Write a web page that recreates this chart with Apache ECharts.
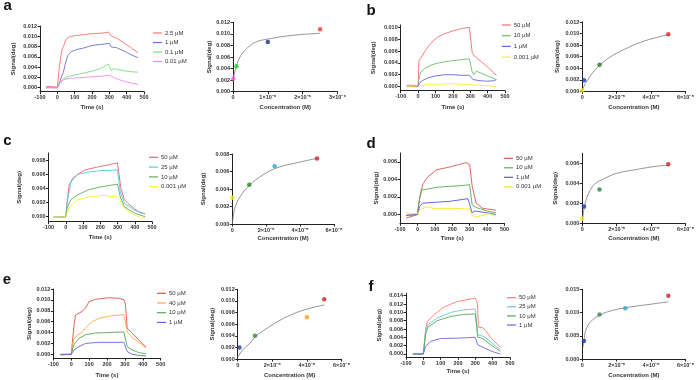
<!DOCTYPE html>
<html>
<head>
<meta charset="utf-8">
<script src="https://cdn.jsdelivr.net/npm/echarts@6/dist/echarts.min.js"></script>
<style>
  html, body { margin: 0; padding: 0; background: #fff; }
  #chart { width: 697px; height: 380px; }
</style>
</head>
<body>
<div id="chart"></div>
<script>
// ---- data: sensorgrams [time (s), signal (deg)] ----
const a_2_5uM = [[-65,0.0002],[-30,0.0002],[0,0.0001],[10,0.0035],[25,0.0072],[35,0.0080],[50,0.0094],[70,0.0099],[100,0.0101],[150,0.0103],[200,0.0105],[250,0.0106],[295,0.0108],[305,0.0106],[312,0.0100],[320,0.0102],[340,0.0097],[380,0.0088],[420,0.0079],[465,0.0068]];
const a_1uM = [[-65,0.0000],[0,0.0000],[15,0.0012],[25,0.0022],[35,0.0030],[45,0.0045],[60,0.0062],[80,0.0070],[110,0.0074],[150,0.0077],[200,0.0082],[250,0.0084],[300,0.0086],[305,0.0086],[312,0.0079],[320,0.0081],[340,0.0078],[380,0.0072],[420,0.0065],[465,0.0058]];
const a_0_1uM = [[-65,0.0000],[0,0.0000],[15,0.0010],[30,0.0016],[50,0.0020],[80,0.0023],[120,0.0026],[160,0.0029],[200,0.0032],[250,0.0037],[295,0.0046],[305,0.0046],[312,0.0033],[325,0.0037],[340,0.0036],[380,0.0033],[420,0.0031],[465,0.0030]];
const a_0_01uM = [[-65,0.0000],[0,-0.0001],[15,0.0008],[30,0.0014],[50,0.0017],[80,0.0018],[120,0.0019],[160,0.0020],[200,0.0021],[250,0.0022],[300,0.0024],[310,0.0023],[330,0.0019],[360,0.0015],[400,0.0011],[440,0.0008],[465,0.0006]];

const b_50uM = [[-65,0.0002],[-30,0.0002],[0,0.0002],[5,0.0044],[12,0.0047],[20,0.0050],[40,0.0060],[60,0.0068],[80,0.0075],[110,0.0083],[150,0.0089],[200,0.0094],[250,0.0098],[295,0.0100],[300,0.0099],[312,0.0056],[330,0.0050],[360,0.0043],[400,0.0033],[450,0.0019]];
const b_10uM = [[-65,0.0000],[0,0.0000],[5,0.0012],[15,0.0024],[40,0.0031],[80,0.0037],[120,0.0040],[180,0.0043],[240,0.0045],[295,0.0047],[300,0.0046],[310,0.0026],[320,0.0020],[335,0.0026],[360,0.0023],[400,0.0018],[450,0.0012]];
const b_1uM = [[-65,0.0000],[0,0.0000],[8,0.0006],[30,0.0011],[60,0.0015],[100,0.0018],[150,0.0020],[200,0.0020],[250,0.0019],[295,0.0019],[305,0.0016],[315,0.0012],[350,0.0010],[400,0.0009],[440,0.0010],[450,0.0012]];
const b_0_001uM = [[-65,0.0000],[0,0.0001],[10,0.0003],[60,0.0004],[120,0.0004],[180,0.0005],[240,0.0004],[295,0.0003],[320,0.0003],[380,0.0002],[450,0.0000]];

const c_50uM = [[-70,0.0000],[-30,-0.0001],[0,0.0000],[10,0.0026],[20,0.0045],[40,0.0054],[70,0.0060],[110,0.0066],[180,0.0070],[260,0.0074],[300,0.0076],[305,0.0076],[320,0.0040],[340,0.0024],[360,0.0019],[400,0.0011],[430,0.0006],[460,0.0004]];
const c_25uM = [[-70,-0.0001],[0,0.0000],[10,0.0023],[30,0.0049],[70,0.0060],[130,0.0063],[200,0.0065],[300,0.0066],[305,0.0066],[316,0.0035],[340,0.0019],[400,0.0009],[460,0.0004]];
const c_10uM = [[-70,-0.0001],[0,0.0000],[10,0.0014],[30,0.0024],[70,0.0031],[130,0.0038],[200,0.0042],[300,0.0046],[305,0.0045],[316,0.0028],[340,0.0014],[400,0.0005],[460,0.0000]];
const c_0_001uM = [[-70,-0.0001],[0,0.0000],[10,0.0008],[30,0.0016],[70,0.0024],[130,0.0028],[220,0.0030],[300,0.0028],[316,0.0022],[340,0.0012],[400,0.0002],[460,-0.0003]];

const d_50uM = [[-65,-0.0004],[-30,-0.0002],[0,0.0000],[13,0.0020],[32,0.0035],[60,0.0043],[110,0.0051],[185,0.0054],[260,0.0058],[280,0.0059],[300,0.0057],[314,0.0033],[337,0.0013],[375,0.0007],[450,0.0005]];
const d_10uM = [[-65,-0.0001],[0,0.0000],[13,0.0018],[25,0.0028],[60,0.0029],[110,0.0031],[185,0.0032],[260,0.0033],[300,0.0034],[314,0.0011],[337,0.0008],[400,0.0004],[450,0.0002]];
const d_1uM = [[-65,-0.0001],[0,0.0000],[13,0.0009],[32,0.0013],[110,0.0014],[185,0.0015],[290,0.0018],[300,0.0017],[314,0.0002],[330,0.0004],[400,0.0002],[450,0.0000]];
const d_0_001uM = [[-65,0.0002],[-30,0.0001],[0,0.0001],[13,0.0005],[50,0.0009],[90,0.0007],[150,0.0007],[220,0.0007],[300,0.0006],[314,-0.0001],[337,-0.0003],[413,0.0001],[450,-0.0002]];

const e_50uM = [[-60,0.0000],[0,0.0000],[15,0.0051],[24,0.0072],[45,0.0076],[62,0.0079],[80,0.0085],[100,0.0097],[136,0.0101],[210,0.0104],[266,0.0103],[295,0.0100],[303,0.0092],[313,0.0048],[341,0.0039],[378,0.0026],[418,0.0013]];
const e_40uM = [[-60,0.0000],[0,0.0000],[15,0.0029],[35,0.0035],[62,0.0041],[90,0.0052],[118,0.0060],[155,0.0066],[210,0.0070],[294,0.0073],[300,0.0072],[313,0.0041],[341,0.0031],[378,0.0022],[418,0.0012]];
const e_10uM = [[-60,-0.0001],[0,0.0000],[15,0.0018],[43,0.0029],[80,0.0036],[136,0.0039],[210,0.0040],[294,0.0041],[300,0.0040],[313,0.0014],[341,0.0008],[378,0.0003],[418,0.0001]];
const e_1uM = [[-60,-0.0001],[0,0.0000],[15,0.0008],[43,0.0014],[80,0.0020],[155,0.0022],[294,0.0022],[300,0.0021],[313,0.0005],[341,0.0000],[378,-0.0002],[418,-0.0003]];

const f_50uM = [[-60,0.0000],[0,0.0000],[13,0.0058],[23,0.0078],[60,0.0094],[120,0.0113],[195,0.0126],[270,0.0132],[300,0.0134],[312,0.0122],[318,0.0064],[340,0.0064],[360,0.0056],[400,0.0034],[445,0.0016]];
const f_25uM = [[-60,0.0000],[0,0.0000],[13,0.0054],[26,0.0070],[80,0.0086],[157,0.0100],[233,0.0106],[300,0.0108],[305,0.0107],[314,0.0046],[350,0.0042],[396,0.0026],[445,0.0010]];
const f_10uM = [[-60,0.0000],[0,0.0000],[13,0.0046],[26,0.0064],[80,0.0080],[157,0.0090],[233,0.0095],[300,0.0096],[305,0.0095],[314,0.0040],[330,0.0039],[349,0.0035],[396,0.0020],[445,0.0006]];
const f_1uM = [[-60,0.0000],[0,0.0000],[13,0.0018],[40,0.0030],[98,0.0037],[200,0.0038],[300,0.0040],[305,0.0039],[314,0.0022],[349,0.0015],[396,0.0006],[445,0.0000]];

// ---- binding plots: concentration (M) vs steady signal, plus fitted curve ----
const a_conc = [1e-8, 1e-7, 1e-6, 2.5e-6];
const a_resp = [0.0023, 0.0044, 0.0086, 0.0108];
const a_fit = [[0,0.0022],[5e-8,0.0034],[1e-7,0.0045],[2e-7,0.0060],[3.5e-7,0.0072],[5e-7,0.0080],[7e-7,0.0087],[1e-6,0.0091],[1.5e-6,0.0096],[2e-6,0.0099],[2.5e-6,0.0101]];

const b_conc = [1e-9, 1e-6, 1e-5, 5e-5];
const b_resp = [0.0002, 0.0019, 0.0046, 0.0099];
const b_fit = [[0,0.0000],[1e-6,0.0009],[3e-6,0.0019],[6e-6,0.0032],[1e-5,0.0045],[1.6e-5,0.0059],[2.4e-5,0.0072],[3.4e-5,0.0085],[4.3e-5,0.0093],[5e-5,0.0098]];

const c_conc = [1e-9, 1e-5, 2.5e-5, 5e-5];
const c_resp = [0.0030, 0.0045, 0.0066, 0.0075];
const c_fit = [[0,0.0000],[1.5e-6,0.0018],[4.5e-6,0.0031],[1e-5,0.0044],[1.8e-5,0.0056],[2.6e-5,0.0064],[3.8e-5,0.0070],[5e-5,0.0075]];

const d_conc = [1e-9, 1e-6, 1e-5, 5e-5];
const d_resp = [0.0005, 0.0017, 0.0034, 0.0059];
const d_fit = [[0,0.0003],[1.5e-6,0.0019],[3.4e-6,0.0029],[7e-6,0.0039],[1.3e-5,0.0045],[2e-5,0.0050],[3.2e-5,0.0054],[4.3e-5,0.0057],[5e-5,0.0058]];

const e_conc = [1e-6, 1e-5, 4e-5, 5e-5];
const e_resp = [0.0020, 0.0040, 0.0072, 0.0103];
const e_fit = [[3e-7,0.0004],[3e-6,0.0016],[7e-6,0.0027],[1e-5,0.0038],[1.7e-5,0.0053],[2.4e-5,0.0066],[3.4e-5,0.0080],[4.4e-5,0.0089],[5e-5,0.0093]];

const f_conc = [1e-6, 1e-5, 2.5e-5, 5e-5];
const f_resp = [0.0039, 0.0096, 0.0109, 0.0136];
const f_fit = [[5e-7,0.0026],[1e-6,0.0040],[2e-6,0.0062],[4.8e-6,0.0080],[1e-5,0.0094],[1.7e-5,0.0104],[2.8e-5,0.0112],[4e-5,0.0118],[5e-5,0.0123]];

// ---- tick labels ----
const timeTicks = [-100, 0, 100, 200, 300, 400, 500];
const sig12 = [0, 0.002, 0.004, 0.006, 0.008, 0.010, 0.012];
const sig10 = [0, 0.002, 0.004, 0.006, 0.008, 0.010];
const sig8 = [0, 0.002, 0.004, 0.006, 0.008];
const sig6 = [0, 0.002, 0.004, 0.006];
const sig14 = [0, 0.002, 0.004, 0.006, 0.008, 0.010, 0.012, 0.014];
const sig15 = [0, 0.005, 0.010, 0.015];
const concTicksA = [0, 1e-6, 2e-6, 3e-6];
const concTicks = [0, 2e-5, 4e-5, 6e-5];

const FONT = '"Liberation Sans", Arial, sans-serif';

// panel layout (pixels)
const panels = [
  { id: 'a', letter: [3.5, 10],
    lines: [['2.5 µM', a_2_5uM, '#ff7373'], ['1 µM', a_1uM, '#6f6fd2'], ['0.1 µM', a_0_1uM, '#7fdc7f'], ['0.01 µM', a_0_01uM, '#f08af0']],
    sensor: { left: 40, top: 26, width: 104, height: 65.7, min: -0.0008, max: 0.012, ticks: sig12, yGap: 24, xGap: 12.5 },
    bind: { left: 233, top: 22.3, width: 104.5, height: 69.4, max: 0.012, ticks: sig12, xmax: 3e-6, xticks: concTicksA, yGap: 17.5, xGap: 12.8,
            conc: a_conc, resp: a_resp, fit: a_fit, colors: ['#ff55dd', '#22cc22', '#1f2a8a', '#ee3333'] },
    legend: { left: 153, top: 29.5, gap: 2.5 } },
  { id: 'b', letter: [366.5, 15],
    lines: [['50 µM', b_50uM, '#ee7070'], ['10 µM', b_10uM, '#6cbf6c'], ['1 µM', b_1uM, '#6464dc'], ['0.001 µM', b_0_001uM, '#f5f033']],
    sensor: { left: 400.7, top: 25, width: 104.3, height: 65.7, min: -0.0007, max: 0.0104, ticks: sig10, yGap: 24, xGap: 14 },
    bind: { left: 582.3, top: 22, width: 105, height: 69.3, max: 0.012, ticks: sig12, xmax: 6e-5, xticks: concTicks, yGap: 22, xGap: 13.5,
            conc: b_conc, resp: b_resp, fit: b_fit, colors: ['#f5e800', '#2233aa', '#227722', '#dd2222'] },
    legend: { left: 501.7, top: 21.5, gap: 3.7 } },
  { id: 'c', letter: [3.3, 145.7],
    lines: [['50 µM', c_50uM, '#dd6677'], ['25 µM', c_25uM, '#55c8dc'], ['10 µM', c_10uM, '#66aa66'], ['0.001 µM', c_0_001uM, '#f5f033']],
    sensor: { left: 48.5, top: 153, width: 103.5, height: 68.7, min: -0.0007, max: 0.009, ticks: sig8, yGap: 26, xGap: 13 },
    bind: { left: 232.3, top: 154, width: 101.7, height: 70, max: 0.008, ticks: sig8, xmax: 6e-5, xticks: concTicks, yGap: 25.5, xGap: 11.8,
            conc: c_conc, resp: c_resp, fit: c_fit, colors: ['#f5e800', '#228822', '#22aacc', '#cc2222'] },
    legend: { left: 149, top: 153.8, gap: 2.8 } },
  { id: 'd', letter: [366.5, 148.3],
    lines: [['50 µM', d_50uM, '#dd5555'], ['10 µM', d_10uM, '#55aa55'], ['1 µM', d_1uM, '#5555dd'], ['0.001 µM', d_0_001uM, '#f5e522']],
    sensor: { left: 400, top: 153, width: 104.5, height: 70.3, min: -0.001, max: 0.007, ticks: sig6, yGap: 18, xGap: 12.5 },
    bind: { left: 582.3, top: 153.2, width: 105, height: 70.5, max: 0.007, ticks: sig6, xmax: 6e-5, xticks: concTicks, yGap: 23.5, xGap: 12,
            conc: d_conc, resp: d_resp, fit: d_fit, colors: ['#f5e800', '#2233bb', '#228833', '#cc2222'] },
    legend: { left: 504, top: 154.8, gap: 2.5 } },
  { id: 'e', letter: [2.7, 284],
    lines: [['50 µM', e_50uM, '#e05050'], ['40 µM', e_40uM, '#ffaa44'], ['10 µM', e_10uM, '#55aa55'], ['1 µM', e_1uM, '#6666dd']],
    sensor: { left: 53.3, top: 289, width: 107.4, height: 69.1, min: -0.0007, max: 0.012, ticks: sig12, yGap: 18, xGap: 14 },
    bind: { left: 237.7, top: 289.3, width: 103.8, height: 69.7, max: 0.012, ticks: sig12, xmax: 6e-5, xticks: concTicks, yGap: 22, xGap: 13.2,
            conc: e_conc, resp: e_resp, fit: e_fit, colors: ['#2233aa', '#338833', '#ff9922', '#cc2222'] },
    legend: { left: 157, top: 289.8, gap: 2.7 } },
  { id: 'f', letter: [368.5, 291.7],
    lines: [['50 µM', f_50uM, '#ff7777'], ['25 µM', f_25uM, '#66cccc'], ['10 µM', f_10uM, '#55aa55'], ['1 µM', f_1uM, '#7766dd']],
    sensor: { left: 406, top: 293.2, width: 104, height: 64.1, min: -0.0008, max: 0.0146, ticks: sig14, yGap: 24, xGap: 11.5 },
    bind: { left: 582.3, top: 289.3, width: 105, height: 69.7, max: 0.015, ticks: sig15, xmax: 6e-5, xticks: concTicks, yGap: 23, xGap: 13.5,
            conc: f_conc, resp: f_resp, fit: f_fit, colors: ['#2233aa', '#338855', '#22aacc', '#cc2222'] },
    legend: { left: 507, top: 294.2, gap: 2.1 } }
];

const SUP = { '-': '⁻', '0': '⁰', '1': '¹', '2': '²', '3': '³', '4': '⁴', '5': '⁵', '6': '⁶', '7': '⁷', '8': '⁸', '9': '⁹' };
function sci(v) {
  if (v === 0) return '0';
  const e = Math.floor(Math.log10(v) + 1e-9);
  const m = Math.round(v / Math.pow(10, e));
  return m + '×10' + String(e).split('').map(c => SUP[c]).join('');
}

function axis(extra) {
  return Object.assign({
    type: 'value',
    nameLocation: 'middle',
    axisLine: { show: true, onZero: false, lineStyle: { color: '#222', width: 1 } },
    axisTick: { show: true, length: 2.5, lineStyle: { color: '#222', width: 1 } },
    splitLine: { show: false },
    nameTextStyle: { fontSize: 6, fontWeight: 'bold', color: '#333', fontFamily: FONT }
  }, extra);
}
function label(ticks, fmt) {
  return { fontSize: 5.5, fontWeight: 'bold', color: '#333', fontFamily: FONT, margin: 3, customValues: ticks, formatter: fmt };
}

const grids = [], xAxes = [], yAxes = [], series = [], legends = [], graphics = [];

panels.forEach(p => {
  // sensorgram
  const s = p.sensor;
  let gi = grids.length;
  grids.push({ left: s.left, top: s.top, width: s.width, height: s.height });
  xAxes.push(axis({ gridIndex: gi, min: -100, max: 500, name: 'Time (s)', nameGap: s.xGap,
    axisLabel: label(timeTicks, v => String(v)), axisTick: { length: 2.5, customValues: timeTicks, lineStyle: { color: '#222' } } }));
  yAxes.push(axis({ gridIndex: gi, min: s.min, max: s.max, name: 'Signal(deg)', nameGap: s.yGap,
    axisLabel: label(s.ticks, v => v.toFixed(3)), axisTick: { length: 2.5, customValues: s.ticks, lineStyle: { color: '#222' } } }));
  const names = [];
  p.lines.forEach(([name, data, color]) => {
    const key = name + '|' + p.id;
    names.push(key);
    series.push({ type: 'line', name: key, xAxisIndex: gi, yAxisIndex: gi, data: data,
      symbol: 'none', showSymbol: false, color: color, lineStyle: { width: 0.9, color: color } });
  });
  legends.push({ orient: 'vertical', left: p.legend.left, top: p.legend.top, data: names, padding: 0,
    icon: 'rect', itemWidth: 9, itemHeight: 1.2, itemGap: p.legend.gap, selectedMode: false,
    formatter: n => n.split('|')[0],
    textStyle: { fontSize: 6, color: '#333', fontFamily: FONT, lineHeight: 7, padding: [0, 0, 0, -2] } });

  // binding curve
  const b = p.bind;
  gi = grids.length;
  grids.push({ left: b.left, top: b.top, width: b.width, height: b.height });
  xAxes.push(axis({ gridIndex: gi, min: 0, max: b.xmax, name: 'Concentration (M)', nameGap: b.xGap,
    axisLabel: label(b.xticks, sci), axisTick: { length: 2.5, customValues: b.xticks, lineStyle: { color: '#222' } } }));
  yAxes.push(axis({ gridIndex: gi, min: 0, max: b.max, name: 'Signal(deg)', nameGap: b.yGap,
    axisLabel: label(b.ticks, v => v.toFixed(3)), axisTick: { length: 2.5, customValues: b.ticks, lineStyle: { color: '#222' } } }));
  series.push({ type: 'line', xAxisIndex: gi, yAxisIndex: gi, data: b.fit, smooth: 0.4,
    symbol: 'none', showSymbol: false, lineStyle: { width: 0.8, color: '#7a7a7a' }, z: 2 });
  series.push({ type: 'scatter', xAxisIndex: gi, yAxisIndex: gi, symbol: 'circle', symbolSize: 4.5, z: 3,
    data: b.conc.map((c, i) => ({ value: [c, b.resp[i]], itemStyle: { color: b.colors[i] } })) });

  graphics.push({ type: 'text', x: p.letter[0], y: p.letter[1] + 3,
    style: { text: p.id, font: 'bold 15px ' + FONT, fill: '#111', verticalAlign: 'bottom' } });
});

const chart = echarts.init(document.getElementById('chart'), null, { renderer: 'canvas' });
chart.setOption({
  animation: false,
  backgroundColor: '#fff',
  grid: grids,
  xAxis: xAxes,
  yAxis: yAxes,
  legend: legends,
  series: series,
  graphic: graphics
});
</script>
</body>
</html>
